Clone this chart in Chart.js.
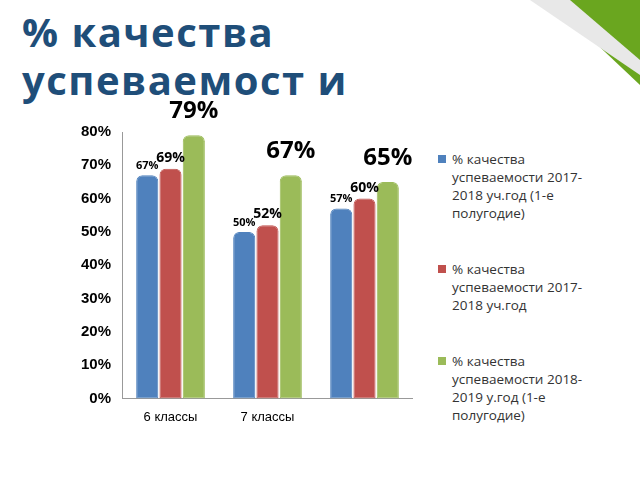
<!DOCTYPE html>
<html><head><meta charset="utf-8">
<script src="https://cdn.jsdelivr.net/npm/chart.js@4"></script>
<style>
body{margin:0;width:640px;height:480px;background:#fff;font-family:"Open Sans","DejaVu Sans",sans-serif;position:relative;overflow:hidden}
#title{position:absolute;left:22px;top:8px;font-size:40px;font-weight:bold;color:#1F4E79;line-height:48px;width:540px;letter-spacing:1.5px}
#wrap{position:absolute;left:78px;top:80px;width:335px;height:348px}
#legend{position:absolute;left:436px;top:150px;width:168px;font-size:13.5px;color:#333;line-height:18px}
.li{position:relative;padding-left:16px;margin-bottom:38px}
.sw{position:absolute;left:2px;top:5px;width:8px;height:8px}
#corner{position:absolute;right:0;top:0}
</style></head><body>
<svg id="corner" width="140" height="90"><polygon points="50,0 140,0 140,85" fill="#6aa61f"/><polygon points="30,0 70,0 140,60 140,75" fill="#e8e8e8"/></svg>
<div id="title">% качества успеваемост и</div>
<div id="wrap"><canvas id="c"></canvas></div>
<div id="legend"></div>
<script>
const categories=["6 классы","7 классы",""];
const seriesNames=["% качества успеваемости 2017-2018 уч.год (1-е полугодие)","% качества успеваемости 2017-2018 уч.год","% качества успеваемости 2018-2019 у.год (1-е полугодие)"];
const s1=[67,50,57];
const s2=[69,52,60];
const s3=[79,67,65];
const yTicks=[0,10,20,30,40,50,60,70,80];
const colors=["#4F81BD","#C0504D","#9BBB59"];
const labelSizes=[11,14,24];
const lg=document.getElementById('legend');
seriesNames.forEach((n,i)=>{lg.innerHTML+=`<div class="li"><span class="sw" style="background:${colors[i]}"></span>${n}</div>`});
const labelPlugin={id:'lbl',afterDatasetsDraw(ch){const ctx=ch.ctx;ch.data.datasets.forEach((d,i)=>{ch.getDatasetMeta(i).data.forEach((b,j)=>{ctx.save();ctx.font=`bold ${labelSizes[i]}px "Open Sans",sans-serif`;ctx.fillStyle='#000';ctx.textAlign='center';ctx.textBaseline='bottom';ctx.fillText(d.data[j]+'%',b.x,b.y-4-(i==2?8:0));ctx.restore();});});}};
new Chart(document.getElementById('c'),{type:'bar',data:{labels:categories,datasets:[s1,s2,s3].map((d,i)=>({label:seriesNames[i],data:d,backgroundColor:colors[i],borderColor:colors[i],borderWidth:1,borderRadius:{topLeft:6,topRight:6},borderSkipped:false,categoryPercentage:0.72,barPercentage:0.95}))},
options:{responsive:true,maintainAspectRatio:false,animation:false,layout:{padding:{top:52}},plugins:{legend:{display:false},tooltip:{enabled:false}},
scales:{y:{min:0,max:80,afterBuildTicks(a){a.ticks=yTicks.map(v=>({value:v}))},ticks:{callback:v=>v+'%',font:{size:15,weight:'bold'},color:'#000'},grid:{display:false},border:{color:'#999'}},
x:{ticks:{font:{size:13},color:'#000'},grid:{display:false},border:{color:'#999'}}}},plugins:[labelPlugin]});
</script></body></html>
